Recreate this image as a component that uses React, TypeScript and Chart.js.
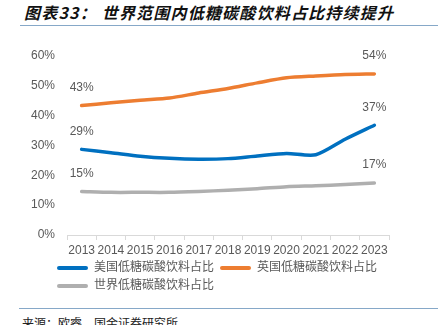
import React, { useEffect, useRef } from "react";
import Chart from "chart.js/auto";

const categories = ["2013", "2014", "2015", "2016", "2017", "2018", "2019", "2020", "2021", "2022", "2023"];
const seriesNames = ["美国低糖碳酸饮料占比", "英国低糖碳酸饮料占比", "世界低糖碳酸饮料占比"];
const usShare = [28.7, 27.6, 26.4, 25.7, 25.4, 25.6, 26.5, 27.3, 26.9, 32.1, 36.8];
const ukShare = [43.4, 44.3, 45.2, 45.9, 47.6, 49.1, 51.0, 52.7, 53.3, 53.8, 54.0];
const worldShare = [14.6, 14.3, 14.3, 14.3, 14.6, 15.0, 15.5, 16.2, 16.5, 16.9, 17.4];
const yMin = 0;
const yMax = 60;
const yStep = 10;

const title = "图表33： 世界范围内低糖碳酸饮料占比持续提升";
const source = "来源：欧睿，国金证券研究所";

const colors = ["#0070C0", "#ED7D31", "#AFAFAF"];
const FONT = "'Liberation Sans', Arial, 'Noto Sans CJK SC', sans-serif";

const endLabels = {
  id: "endLabels",
  afterDatasetsDraw(chart: any) {
    const ctx = chart.ctx;
    ctx.save();
    ctx.font = `12px ${FONT}`;
    ctx.fillStyle = "#595959";
    ctx.textAlign = "center";
    ctx.textBaseline = "middle";
    chart.data.datasets.forEach((ds: any, i: number) => {
      const meta = chart.getDatasetMeta(i);
      const n = meta.data.length;
      [0, n - 1].forEach((idx) => {
        const pt = meta.data[idx];
        ctx.fillText(Math.round(ds.data[idx]) + "%", pt.x, pt.y - 18);
      });
    });
    ctx.restore();
  },
};

const legendShift = {
  id: "legendShift",
  afterLayout(chart: any) {
    if (chart.legend) {
      chart.legend.left = 51;
    }
  },
};

export default function App() {
  const ref = useRef<HTMLCanvasElement>(null);
  useEffect(() => {
    if (!ref.current) return;
    const series = [usShare, ukShare, worldShare];
    const chart = new Chart(ref.current, {
      type: "line",
      data: {
        labels: categories,
        datasets: series.map((d, i) => ({
          label: seriesNames[i],
          data: d,
          borderColor: colors[i],
          backgroundColor: colors[i],
          borderWidth: 3.5,
          pointRadius: 0,
          pointHoverRadius: 0,
          tension: 0.25,
          borderCapStyle: "round" as const,
          fill: false,
        })),
      },
      options: {
        animation: false,
        responsive: false,
        events: [],
        layout: { padding: { left: 0, right: 8, top: 26, bottom: 0 } },
        plugins: {
          tooltip: { enabled: false },
          legend: {
            position: "bottom",
            align: "start",
            labels: {
              boxWidth: 31,
              boxHeight: 4,
              padding: 6,
              color: "#595959",
              font: { size: 12, family: FONT },
              useBorderRadius: true,
              borderRadius: 2,
              generateLabels: (c: any) =>
                Chart.defaults.plugins.legend.labels
                  .generateLabels(c)
                  .map((l: any) => ({ ...l, lineWidth: 0 })),
            },
          },
        },
        scales: {
          x: {
            offset: true,
            grid: {
              display: true,
              offset: true,
              drawOnChartArea: false,
              drawTicks: true,
              tickLength: 5,
              color: "#D9D9D9",
            },
            border: { display: true, color: "#D9D9D9", width: 1 },
            ticks: {
              color: "#595959",
              font: { size: 12, family: FONT },
              maxRotation: 0,
              autoSkip: false,
              padding: 3,
            },
            afterFit: (s: any) => {
              s.height = 21;
            },
          },
          y: {
            min: yMin,
            max: yMax,
            grid: { display: false, drawTicks: false },
            border: { display: false },
            ticks: {
              stepSize: yStep,
              color: "#595959",
              font: { size: 12, family: FONT },
              padding: 12,
              callback: (v: any) => v + "%",
            },
            afterFit: (s: any) => {
              s.width = 67;
            },
          },
          y2: {
            position: "right",
            display: true,
            min: yMin,
            max: yMax,
            grid: { display: false, drawTicks: false },
            border: { display: false },
            ticks: { display: false },
            afterFit: (s: any) => {
              s.width = 41;
            },
          },
        },
      },
      plugins: [endLabels, legendShift],
    });
    return () => chart.destroy();
  }, []);

  return (
    <div
      style={{
        position: "fixed",
        left: 0,
        top: 0,
        width: 438,
        height: 325,
        overflow: "hidden",
        background: "#fff",
      }}
    >
      <div
        style={{
          position: "absolute",
          left: 24,
          top: 2,
          fontFamily: "'Noto Sans CJK SC', sans-serif",
          fontWeight: 700,
          fontStyle: "italic",
          fontSize: 16,
          lineHeight: "20px",
          letterSpacing: 1.2,
          color: "#111",
          whiteSpace: "nowrap",
        }}
      >
        {title}
      </div>
      <div style={{ position: "absolute", left: 20, top: 25, width: 418, height: 1, background: "#86A8C8" }} />
      <canvas
        ref={ref}
        width={438}
        height={272}
        style={{ position: "absolute", left: 0, top: 30, width: 438, height: 272 }}
      />
      <div style={{ position: "absolute", left: 19, top: 308, width: 419, height: 1, background: "#86A8C8" }} />
      <div
        style={{
          position: "absolute",
          left: 22,
          top: 316,
          fontFamily: "'Noto Sans CJK SC', sans-serif",
          fontSize: 12,
          lineHeight: "14px",
          color: "#222",
          whiteSpace: "nowrap",
        }}
      >
        {source}
      </div>
    </div>
  );
}
